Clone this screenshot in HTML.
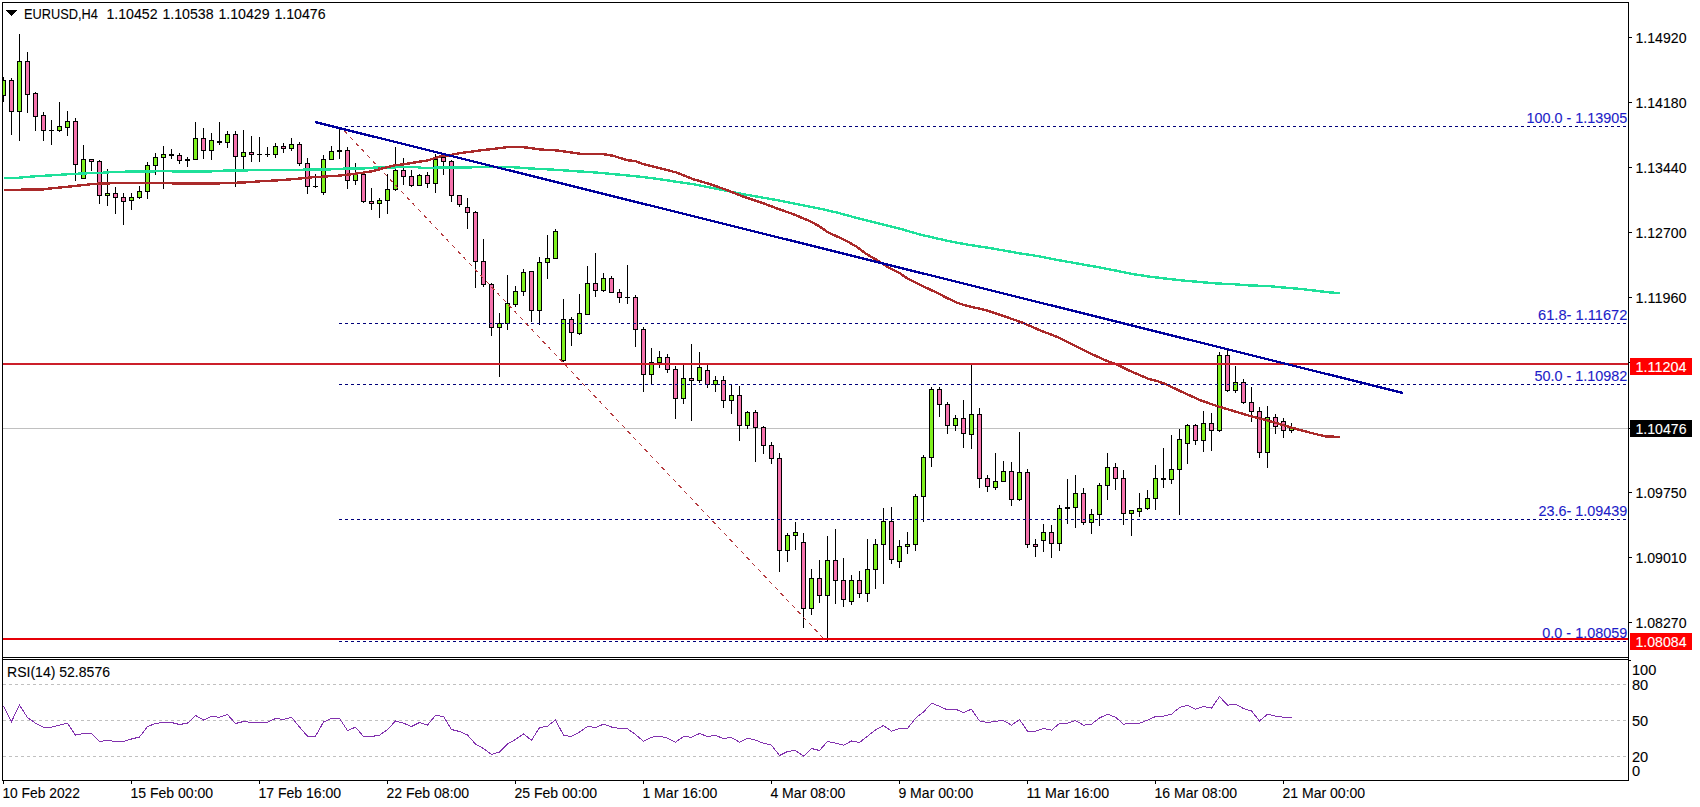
<!DOCTYPE html>
<html lang="en"><head><meta charset="utf-8"><title>EURUSD,H4</title>
<style>
html,body{margin:0;padding:0;background:#fff;overflow:hidden}
svg{display:block}
text{font-family:"Liberation Sans",Arial,sans-serif;font-size:14.6px;fill:#000;stroke:#000;stroke-width:.1px}
.b{fill:#1c1cc8;stroke:#1c1cc8}
.w{fill:#fff;stroke:#fff}
</style></head>
<body>
<svg width="1700" height="807" viewBox="0 0 1700 807">
<rect width="1700" height="807" fill="#fff"/>
<path d="M3 428.5H1628" stroke="#c0c0c0" stroke-width="1" shape-rendering="crispEdges"/>
<clipPath id="cp"><rect x="3" y="3" width="1625" height="654"/></clipPath>
<g shape-rendering="crispEdges" clip-path="url(#cp)">
<path fill="#000" d="M3 77h1v25h-1zM1 80h5v16h-5zM11 78h1v57h-1zM9 80h5v32h-5zM19 34h1v107h-1zM17 61h5v51h-5zM27 52h1v61h-1zM25 61h5v34h-5zM35 92h1v39h-1zM33 93h5v24h-5zM43 112h1v29h-1zM41 115h5v16h-5zM51 120h1v25h-1zM49 130h5v1h-5zM59 102h1v30h-1zM57 126h5v5h-5zM67 111h1v25h-1zM65 121h5v7h-5zM75 118h1v63h-1zM73 121h5v44h-5zM83 145h1v34h-1zM81 159h5v20h-5zM91 159h1v12h-1zM89 159h5v3h-5zM99 160h1v44h-1zM97 161h5v35h-5zM107 169h1v37h-1zM105 193h5v3h-5zM115 187h1v27h-1zM113 193h5v5h-5zM123 193h1v32h-1zM121 197h5v5h-5zM131 193h1v17h-1zM129 197h5v4h-5zM139 186h1v13h-1zM137 191h5v7h-5zM147 162h1v37h-1zM145 165h5v27h-5zM155 153h1v22h-1zM153 157h5v9h-5zM163 146h1v43h-1zM161 154h5v4h-5zM171 149h1v10h-1zM169 154h5v2h-5zM179 153h1v11h-1zM177 155h5v6h-5zM187 157h1v10h-1zM185 159h5v2h-5zM195 122h1v38h-1zM193 138h5v22h-5zM203 128h1v31h-1zM201 138h5v13h-5zM211 133h1v27h-1zM209 140h5v11h-5zM219 122h1v23h-1zM217 141h5v2h-5zM227 131h1v17h-1zM225 134h5v9h-5zM235 131h1v56h-1zM233 134h5v23h-5zM243 130h1v39h-1zM241 152h5v5h-5zM251 136h1v26h-1zM249 152h5v3h-5zM259 137h1v25h-1zM257 154h5v1h-5zM267 147h1v10h-1zM265 154h5v1h-5zM275 143h1v15h-1zM273 146h5v9h-5zM283 143h1v10h-1zM281 146h5v3h-5zM291 138h1v13h-1zM289 144h5v5h-5zM299 142h1v24h-1zM297 144h5v20h-5zM307 158h1v36h-1zM305 163h5v24h-5zM315 174h1v14h-1zM313 186h5v1h-5zM323 155h1v40h-1zM321 159h5v34h-5zM331 146h1v14h-1zM329 151h5v9h-5zM339 128h1v31h-1zM337 150h5v2h-5zM347 147h1v42h-1zM345 150h5v31h-5zM355 163h1v22h-1zM353 173h5v8h-5zM363 174h1v29h-1zM361 174h5v28h-5zM371 188h1v22h-1zM369 201h5v3h-5zM379 198h1v20h-1zM377 200h5v4h-5zM387 174h1v40h-1zM385 189h5v12h-5zM395 147h1v44h-1zM393 170h5v20h-5zM403 158h1v27h-1zM401 170h5v7h-5zM411 170h1v17h-1zM409 176h5v10h-5zM419 174h1v12h-1zM417 175h5v11h-5zM427 172h1v16h-1zM425 175h5v9h-5zM435 154h1v39h-1zM433 159h5v25h-5zM443 154h1v21h-1zM441 157h5v5h-5zM451 160h1v42h-1zM449 161h5v35h-5zM459 195h1v12h-1zM457 195h5v10h-5zM467 198h1v31h-1zM465 207h5v6h-5zM475 211h1v77h-1zM473 212h5v50h-5zM483 239h1v48h-1zM481 261h5v24h-5zM491 283h1v53h-1zM489 284h5v44h-5zM499 313h1v64h-1zM497 323h5v5h-5zM507 275h1v55h-1zM505 303h5v21h-5zM515 286h1v21h-1zM513 291h5v14h-5zM523 269h1v27h-1zM521 272h5v20h-5zM531 271h1v51h-1zM529 271h5v40h-5zM539 257h1v68h-1zM537 262h5v49h-5zM547 235h1v44h-1zM545 258h5v5h-5zM555 229h1v29h-1zM553 231h5v28h-5zM563 299h1v63h-1zM561 319h5v42h-5zM571 317h1v29h-1zM569 319h5v14h-5zM579 294h1v41h-1zM577 313h5v21h-5zM587 266h1v49h-1zM585 283h5v32h-5zM595 253h1v44h-1zM593 283h5v8h-5zM603 273h1v19h-1zM601 278h5v13h-5zM611 276h1v17h-1zM609 278h5v15h-5zM619 289h1v14h-1zM617 292h5v6h-5zM627 265h1v39h-1zM625 297h5v1h-5zM635 295h1v52h-1zM633 297h5v33h-5zM643 327h1v65h-1zM641 329h5v46h-5zM651 348h1v36h-1zM649 362h5v13h-5zM659 351h1v17h-1zM657 357h5v6h-5zM667 354h1v19h-1zM665 357h5v13h-5zM675 366h1v53h-1zM673 369h5v30h-5zM683 363h1v41h-1zM681 378h5v21h-5zM691 344h1v77h-1zM689 378h5v3h-5zM699 352h1v31h-1zM697 367h5v14h-5zM707 363h1v25h-1zM705 370h5v15h-5zM715 376h1v16h-1zM713 380h5v5h-5zM723 376h1v32h-1zM721 380h5v21h-5zM731 384h1v30h-1zM729 395h5v6h-5zM739 386h1v55h-1zM737 395h5v31h-5zM747 411h1v18h-1zM745 412h5v14h-5zM755 410h1v52h-1zM753 412h5v16h-5zM763 426h1v28h-1zM761 427h5v19h-5zM771 442h1v22h-1zM769 445h5v14h-5zM779 453h1v119h-1zM777 458h5v93h-5zM787 533h1v29h-1zM785 535h5v16h-5zM795 522h1v28h-1zM793 532h5v4h-5zM803 533h1v95h-1zM801 542h5v67h-5zM811 569h1v46h-1zM809 578h5v31h-5zM819 560h1v43h-1zM817 578h5v18h-5zM827 536h1v106h-1zM825 560h5v36h-5zM835 529h1v75h-1zM833 560h5v21h-5zM843 558h1v49h-1zM841 580h5v20h-5zM851 575h1v30h-1zM849 580h5v22h-5zM859 571h1v27h-1zM857 580h5v14h-5zM867 539h1v63h-1zM865 569h5v25h-5zM875 539h1v50h-1zM873 544h5v26h-5zM883 508h1v76h-1zM881 521h5v24h-5zM891 507h1v57h-1zM889 521h5v39h-5zM899 540h1v28h-1zM897 546h5v16h-5zM907 532h1v22h-1zM905 544h5v3h-5zM915 494h1v57h-1zM913 496h5v49h-5zM923 455h1v67h-1zM921 457h5v40h-5zM931 387h1v80h-1zM929 389h5v69h-5zM939 387h1v30h-1zM937 389h5v16h-5zM947 402h1v32h-1zM945 404h5v22h-5zM955 415h1v16h-1zM953 418h5v8h-5zM963 400h1v48h-1zM961 418h5v16h-5zM971 364h1v85h-1zM969 414h5v21h-5zM979 408h1v80h-1zM977 414h5v65h-5zM987 475h1v17h-1zM985 478h5v9h-5zM995 453h1v37h-1zM993 481h5v7h-5zM1003 461h1v21h-1zM1001 471h5v11h-5zM1011 462h1v44h-1zM1009 471h5v29h-5zM1019 432h1v69h-1zM1017 472h5v28h-5zM1027 469h1v79h-1zM1025 472h5v73h-5zM1035 539h1v18h-1zM1033 544h5v3h-5zM1043 524h1v28h-1zM1041 532h5v9h-5zM1051 525h1v33h-1zM1049 532h5v12h-5zM1059 505h1v46h-1zM1057 508h5v36h-5zM1067 479h1v45h-1zM1065 507h5v2h-5zM1075 475h1v53h-1zM1073 493h5v15h-5zM1083 488h1v37h-1zM1081 493h5v30h-5zM1091 509h1v25h-1zM1089 514h5v9h-5zM1099 483h1v43h-1zM1097 485h5v30h-5zM1107 453h1v47h-1zM1105 467h5v19h-5zM1115 463h1v27h-1zM1113 467h5v12h-5zM1123 470h1v55h-1zM1121 478h5v36h-5zM1131 510h1v26h-1zM1129 510h5v4h-5zM1139 493h1v24h-1zM1137 508h5v4h-5zM1147 490h1v20h-1zM1145 498h5v11h-5zM1155 465h1v45h-1zM1153 478h5v21h-5zM1163 448h1v40h-1zM1161 478h5v2h-5zM1171 435h1v49h-1zM1169 469h5v11h-5zM1179 429h1v86h-1zM1177 439h5v31h-5zM1187 424h1v40h-1zM1185 425h5v19h-5zM1195 424h1v21h-1zM1193 425h5v16h-5zM1203 411h1v41h-1zM1201 423h5v18h-5zM1211 413h1v38h-1zM1209 423h5v8h-5zM1219 352h1v80h-1zM1217 355h5v76h-5zM1227 350h1v42h-1zM1225 355h5v36h-5zM1235 366h1v27h-1zM1233 382h5v9h-5zM1243 379h1v25h-1zM1241 382h5v21h-5zM1251 387h1v35h-1zM1249 402h5v10h-5zM1259 407h1v51h-1zM1257 411h5v42h-5zM1267 406h1v62h-1zM1265 417h5v36h-5zM1275 414h1v20h-1zM1273 417h5v10h-5zM1283 418h1v20h-1zM1281 421h5v10h-5zM1291 423h1v10h-1zM1289 427h5v4h-5z"/>
<path fill="#7ff01e" d="M2 81h3v14h-3zM18 62h3v49h-3zM58 127h3v3h-3zM66 122h3v5h-3zM82 160h3v18h-3zM106 194h3v1h-3zM130 198h3v2h-3zM138 192h3v5h-3zM146 166h3v25h-3zM154 158h3v7h-3zM162 155h3v2h-3zM194 139h3v20h-3zM210 141h3v9h-3zM226 135h3v7h-3zM242 153h3v3h-3zM274 147h3v7h-3zM290 145h3v3h-3zM322 160h3v32h-3zM330 152h3v7h-3zM354 174h3v6h-3zM378 201h3v2h-3zM386 190h3v10h-3zM394 171h3v18h-3zM418 176h3v9h-3zM434 160h3v23h-3zM498 324h3v3h-3zM506 304h3v19h-3zM514 292h3v12h-3zM522 273h3v18h-3zM538 263h3v47h-3zM546 259h3v3h-3zM554 232h3v26h-3zM562 320h3v40h-3zM578 314h3v19h-3zM586 284h3v30h-3zM602 279h3v11h-3zM650 363h3v11h-3zM658 358h3v4h-3zM682 379h3v19h-3zM698 368h3v12h-3zM714 381h3v3h-3zM730 396h3v4h-3zM746 413h3v12h-3zM786 536h3v14h-3zM794 533h3v2h-3zM810 579h3v29h-3zM826 561h3v34h-3zM850 581h3v20h-3zM866 570h3v23h-3zM874 545h3v24h-3zM882 522h3v22h-3zM898 547h3v14h-3zM906 545h3v1h-3zM914 497h3v47h-3zM922 458h3v38h-3zM930 390h3v67h-3zM954 419h3v6h-3zM970 415h3v19h-3zM994 482h3v5h-3zM1002 472h3v9h-3zM1018 473h3v26h-3zM1042 533h3v7h-3zM1058 509h3v34h-3zM1074 494h3v13h-3zM1090 515h3v7h-3zM1098 486h3v28h-3zM1106 468h3v17h-3zM1130 511h3v2h-3zM1138 509h3v2h-3zM1146 499h3v9h-3zM1154 479h3v19h-3zM1170 470h3v9h-3zM1178 440h3v29h-3zM1186 426h3v17h-3zM1202 424h3v16h-3zM1218 356h3v74h-3zM1234 383h3v7h-3zM1266 418h3v34h-3zM1290 428h3v2h-3z"/>
<path fill="#f572ac" d="M10 81h3v30h-3zM26 62h3v32h-3zM34 94h3v22h-3zM42 116h3v14h-3zM74 122h3v42h-3zM90 160h3v1h-3zM98 162h3v33h-3zM114 194h3v3h-3zM122 198h3v3h-3zM178 156h3v4h-3zM202 139h3v11h-3zM234 135h3v21h-3zM250 153h3v1h-3zM282 147h3v1h-3zM298 145h3v18h-3zM306 164h3v22h-3zM346 151h3v29h-3zM362 175h3v26h-3zM370 202h3v1h-3zM402 171h3v5h-3zM410 177h3v8h-3zM426 176h3v7h-3zM442 158h3v3h-3zM450 162h3v33h-3zM458 196h3v8h-3zM466 208h3v4h-3zM474 213h3v48h-3zM482 262h3v22h-3zM490 285h3v42h-3zM530 272h3v38h-3zM570 320h3v12h-3zM594 284h3v6h-3zM610 279h3v13h-3zM618 293h3v4h-3zM634 298h3v31h-3zM642 330h3v44h-3zM666 358h3v11h-3zM674 370h3v28h-3zM690 379h3v1h-3zM706 371h3v13h-3zM722 381h3v19h-3zM738 396h3v29h-3zM754 413h3v14h-3zM762 428h3v17h-3zM770 446h3v12h-3zM778 459h3v91h-3zM802 543h3v65h-3zM818 579h3v16h-3zM834 561h3v19h-3zM842 581h3v18h-3zM858 581h3v12h-3zM890 522h3v37h-3zM938 390h3v14h-3zM946 405h3v20h-3zM962 419h3v14h-3zM978 415h3v63h-3zM986 479h3v7h-3zM1010 472h3v27h-3zM1026 473h3v71h-3zM1034 545h3v1h-3zM1050 533h3v10h-3zM1082 494h3v28h-3zM1114 468h3v10h-3zM1122 479h3v34h-3zM1194 426h3v14h-3zM1210 424h3v6h-3zM1226 356h3v34h-3zM1242 383h3v19h-3zM1250 403h3v8h-3zM1258 412h3v40h-3zM1274 418h3v8h-3zM1282 422h3v8h-3z"/>
</g>
<path d="M3.7 178.1L16.7 177.9L33.4 176.4L50.1 175.4L66.8 174.3L83.5 173.4L100.2 172.9L116.9 171.8L150.4 171.4L170.4 171.0L173.7 171.6L210.5 171.4L217.2 170.8L242.2 170.4L280.0 169.8L330.1 169.6L333.5 168.8L363.5 168.5L366.9 167.8L396.9 167.3L417.0 167.1L422.0 167.8L447.0 167.6L488.8 167.1L513.9 167.3L530.6 168.5L547.3 169.3L560.0 170.1L576.7 171.3L593.4 172.3L610.1 173.8L626.8 175.4L643.5 177.1L660.2 179.3L676.9 181.8L693.6 184.3L710.4 187.6L727.1 191.0L743.8 194.3L760.5 197.2L777.2 200.2L793.9 203.5L810.6 206.8L820.0 208.7L836.7 212.5L853.4 217.0L870.1 221.4L886.8 225.4L903.5 229.7L920.2 234.6L936.9 238.4L953.6 242.1L970.4 245.1L987.1 247.6L1003.8 250.5L1020.5 253.5L1037.2 256.0L1053.9 259.3L1070.6 262.3L1084.0 264.7L1100.7 267.6L1117.4 270.9L1134.1 274.3L1150.8 276.8L1167.5 278.8L1184.2 280.6L1200.9 282.1L1217.6 283.5L1234.4 284.3L1251.1 285.5L1267.8 286.0L1284.5 287.6L1301.2 289.0L1317.9 291.0L1331.2 292.6L1339.6 293.0" stroke="#1fe09a" stroke-width="2.4" fill="none" stroke-linejoin="round" shape-rendering="crispEdges"/>
<path d="M3.7 189.8L41.8 189.6L50.1 188.5L66.8 186.8L83.5 185.1L93.6 183.8L116.9 183.1L170.4 183.0L173.7 183.6L217.2 183.6L223.9 183.0L242.2 182.6L260.6 181.3L280.0 180.2L296.7 178.8L313.4 177.2L338.5 175.7L346.8 174.8L363.5 172.6L373.5 171.0L383.6 168.1L393.6 165.5L403.6 164.3L413.6 162.6L427.0 160.6L433.7 158.4L440.4 156.4L450.4 155.1L460.4 153.1L480.5 150.4L497.2 148.4L510.5 146.8L520.6 146.8L530.6 148.1L540.6 149.6L554.0 150.1L560.0 150.9L580.0 153.7L601.8 153.9L613.5 155.9L626.8 160.1L635.2 161.1L643.5 164.2L660.2 168.4L676.9 172.6L693.6 179.3L710.4 184.3L727.1 190.1L743.8 196.8L760.5 202.3L777.2 208.5L793.9 214.4L810.6 221.5L820.0 226.7L828.4 232.6L845.1 240.1L856.8 246.8L866.8 254.3L878.5 261.0L890.2 268.5L900.2 273.5L906.9 278.2L920.2 284.9L936.9 292.7L946.0 297.5L956.7 302.5L965.1 305.4L986.8 310.4L1003.5 315.9L1023.5 323.1L1040.2 330.4L1056.9 336.8L1073.6 345.1L1090.4 353.5L1107.1 361.0L1117.1 364.7L1132.1 371.9L1148.8 379.0L1157.2 381.0L1166.7 384.6L1183.4 392.6L1200.1 400.1L1216.8 406.0L1233.5 411.0L1250.2 416.0L1266.9 420.2L1283.6 425.2L1300.4 430.2L1317.1 434.4L1325.4 436.4L1339.6 436.9" stroke="#aa2a2a" stroke-width="2.4" fill="none" stroke-linejoin="round" shape-rendering="crispEdges"/>
<g shape-rendering="crispEdges" stroke="#00007a" stroke-width="1" stroke-dasharray="3 3" fill="none">
<path d="M345 126.5H1628"/>
<path d="M339 323.5H1628"/>
<path d="M339 384.5H1628"/>
<path d="M339 519.5H1628"/>
<path d="M339 641.5H1628"/>
</g>
<path d="M344.6 131.2L825 640" stroke="#b43a3e" stroke-width="1" stroke-dasharray="3.9 4.35" fill="none" shape-rendering="crispEdges"/>
<g shape-rendering="crispEdges">
<rect x="3" y="363" width="1625" height="2" fill="#cc1f2a"/>
<rect x="3" y="638" width="1625" height="2" fill="#e60008"/>
</g>
<path d="M315 122L1403 393" stroke="#00009c" stroke-width="2.3" fill="none" shape-rendering="crispEdges"/>
<g shape-rendering="crispEdges" stroke="#c0c0c0" stroke-width="1" stroke-dasharray="3 3">
<path d="M3 684.5H1628"/>
<path d="M3 720.5H1628"/>
<path d="M3 756.5H1628"/>
</g>
<path d="M3.5 706.2L11.5 721.5L19.5 705.2L27.5 717.5L35.5 723.2L43.5 727.2L51.5 727.2L59.5 725.2L67.5 723.2L75.5 735.2L83.5 733.5L91.5 733.5L99.5 741.5L107.5 740.5L115.5 741.5L123.5 741.5L131.5 739.0L139.5 737.0L147.5 726.5L155.5 723.5L163.5 722.5L171.5 722.5L179.5 724.5L187.5 723.2L195.5 715.5L203.5 720.0L211.5 716.5L219.5 717.2L227.5 714.5L235.5 723.5L243.5 721.5L251.5 722.5L259.5 722.5L267.5 722.2L275.5 718.5L283.5 719.5L291.5 717.2L299.5 727.0L307.5 736.2L315.5 736.2L323.5 722.0L331.5 718.5L339.5 718.5L347.5 730.5L355.5 727.2L363.5 736.5L371.5 736.5L379.5 735.2L387.5 729.5L395.5 721.0L403.5 723.2L411.5 726.5L419.5 722.5L427.5 725.0L435.5 715.5L443.5 716.5L451.5 729.5L459.5 731.5L467.5 735.0L475.5 744.0L483.5 748.5L491.5 754.5L499.5 752.0L507.5 744.0L515.5 739.5L523.5 734.0L531.5 740.2L539.5 727.8L547.5 726.2L555.5 720.0L563.5 735.2L571.5 736.5L579.5 732.0L587.5 726.5L595.5 727.5L603.5 724.2L611.5 727.0L619.5 728.5L627.5 728.8L635.5 734.5L643.5 741.2L651.5 737.2L659.5 736.2L667.5 738.2L675.5 742.2L683.5 736.5L691.5 737.2L699.5 733.5L707.5 736.5L715.5 735.5L723.5 738.5L731.5 737.5L739.5 742.2L747.5 738.2L755.5 740.2L763.5 743.2L771.5 745.2L779.5 755.5L787.5 751.5L795.5 750.5L803.5 756.2L811.5 748.5L819.5 750.5L827.5 741.5L835.5 743.2L843.5 745.2L851.5 741.0L859.5 742.5L867.5 736.2L875.5 730.0L883.5 725.5L891.5 731.2L899.5 728.5L907.5 728.5L915.5 718.2L923.5 712.0L931.5 703.2L939.5 706.2L947.5 710.0L955.5 709.2L963.5 712.5L971.5 709.2L979.5 721.0L987.5 722.5L995.5 721.2L1003.5 720.5L1011.5 725.2L1019.5 719.5L1027.5 731.2L1035.5 731.2L1043.5 728.5L1051.5 730.2L1059.5 723.5L1067.5 723.2L1075.5 720.5L1083.5 725.2L1091.5 724.2L1099.5 718.0L1107.5 714.2L1115.5 717.2L1123.5 724.2L1131.5 723.2L1139.5 723.2L1147.5 720.2L1155.5 716.5L1163.5 716.2L1171.5 714.2L1179.5 707.5L1187.5 705.2L1195.5 709.2L1203.5 706.5L1211.5 708.2L1219.5 696.5L1227.5 705.2L1235.5 704.2L1243.5 708.5L1251.5 711.0L1259.5 721.0L1267.5 714.2L1275.5 716.2L1283.5 717.2L1291.5 717.2" stroke="#8232ae" stroke-width="1" fill="none" shape-rendering="crispEdges"/>
<g shape-rendering="crispEdges" fill="#000">
<rect x="2" y="2" width="1627" height="1"/>
<rect x="2" y="2" width="1" height="779"/>
<rect x="1628" y="2" width="1" height="779"/>
<rect x="2" y="657" width="1627" height="1"/>
<rect x="2" y="659" width="1627" height="1"/>
<rect x="2" y="780" width="1627" height="1"/>
<path d="M1629 37h3v1h-3zM1629 102h3v1h-3zM1629 167h3v1h-3zM1629 232h3v1h-3zM1629 297h3v1h-3zM1629 362h3v1h-3zM1629 428h3v1h-3zM1629 492h3v1h-3zM1629 557h3v1h-3zM1629 622h3v1h-3zM1629 660h2v1h-2zM3 781h1v3h-1zM131 781h1v3h-1zM259 781h1v3h-1zM387 781h1v3h-1zM515 781h1v3h-1zM643 781h1v3h-1zM771 781h1v3h-1zM899 781h1v3h-1zM1027 781h1v3h-1zM1155 781h1v3h-1zM1283 781h1v3h-1z"/>
<rect x="1630" y="358" width="62" height="17" fill="#ff0000"/>
<rect x="1630" y="420" width="62" height="17" fill="#000"/>
<rect x="1630" y="633" width="62" height="17" fill="#ff0000"/>
<path d="M6 10h11l-5.5 6z"/>
</g>
<text x="24" y="19" textLength="74" lengthAdjust="spacingAndGlyphs">EURUSD,H4</text>
<text x="106.4" y="19" textLength="51.2" lengthAdjust="spacingAndGlyphs">1.10452</text>
<text x="162.4" y="19" textLength="51.2" lengthAdjust="spacingAndGlyphs">1.10538</text>
<text x="218.4" y="19" textLength="51.2" lengthAdjust="spacingAndGlyphs">1.10429</text>
<text x="274.4" y="19" textLength="51.2" lengthAdjust="spacingAndGlyphs">1.10476</text>
<text x="1635.5" y="43" textLength="51" lengthAdjust="spacingAndGlyphs">1.14920</text>
<text x="1635.5" y="108" textLength="51" lengthAdjust="spacingAndGlyphs">1.14180</text>
<text x="1635.5" y="173" textLength="51" lengthAdjust="spacingAndGlyphs">1.13440</text>
<text x="1635.5" y="238" textLength="51" lengthAdjust="spacingAndGlyphs">1.12700</text>
<text x="1635.5" y="303" textLength="51" lengthAdjust="spacingAndGlyphs">1.11960</text>
<text x="1635.5" y="498" textLength="51" lengthAdjust="spacingAndGlyphs">1.09750</text>
<text x="1635.5" y="563" textLength="51" lengthAdjust="spacingAndGlyphs">1.09010</text>
<text x="1635.5" y="628" textLength="51" lengthAdjust="spacingAndGlyphs">1.08270</text>
<text x="1635.5" y="372" class="w" textLength="51" lengthAdjust="spacingAndGlyphs">1.11204</text>
<text x="1635.5" y="434" class="w" textLength="51" lengthAdjust="spacingAndGlyphs">1.10476</text>
<text x="1635.5" y="647" class="w" textLength="51" lengthAdjust="spacingAndGlyphs">1.08084</text>
<text x="1526.6" y="123" class="b" textLength="100.7" lengthAdjust="spacingAndGlyphs">100.0 - 1.13905</text>
<text x="1538.1" y="320" class="b" textLength="89.2" lengthAdjust="spacingAndGlyphs">61.8- 1.11672</text>
<text x="1534.3999999999999" y="381" class="b" textLength="92.9" lengthAdjust="spacingAndGlyphs">50.0 - 1.10982</text>
<text x="1538.6" y="516" class="b" textLength="88.7" lengthAdjust="spacingAndGlyphs">23.6- 1.09439</text>
<text x="1542.3" y="638" class="b" textLength="85" lengthAdjust="spacingAndGlyphs">0.0 - 1.08059</text>
<text x="7" y="677" textLength="103" lengthAdjust="spacingAndGlyphs">RSI(14) 52.8576</text>
<text x="1632" y="675">100</text>
<text x="1632" y="690">80</text>
<text x="1632" y="726">50</text>
<text x="1632" y="762">20</text>
<text x="1632" y="776">0</text>
<text x="2.4" y="798" textLength="77.6" lengthAdjust="spacingAndGlyphs">10 Feb 2022</text>
<text x="130.4" y="798" textLength="82.8" lengthAdjust="spacingAndGlyphs">15 Feb 00:00</text>
<text x="258.4" y="798" textLength="82.8" lengthAdjust="spacingAndGlyphs">17 Feb 16:00</text>
<text x="386.4" y="798" textLength="82.8" lengthAdjust="spacingAndGlyphs">22 Feb 08:00</text>
<text x="514.4" y="798" textLength="82.8" lengthAdjust="spacingAndGlyphs">25 Feb 00:00</text>
<text x="642.4" y="798" textLength="75" lengthAdjust="spacingAndGlyphs">1 Mar 16:00</text>
<text x="770.4" y="798" textLength="75" lengthAdjust="spacingAndGlyphs">4 Mar 08:00</text>
<text x="898.4" y="798" textLength="75" lengthAdjust="spacingAndGlyphs">9 Mar 00:00</text>
<text x="1026.4" y="798" textLength="82.8" lengthAdjust="spacingAndGlyphs">11 Mar 16:00</text>
<text x="1154.4" y="798" textLength="82.8" lengthAdjust="spacingAndGlyphs">16 Mar 08:00</text>
<text x="1282.4" y="798" textLength="82.8" lengthAdjust="spacingAndGlyphs">21 Mar 00:00</text>
</svg>
</body></html>
